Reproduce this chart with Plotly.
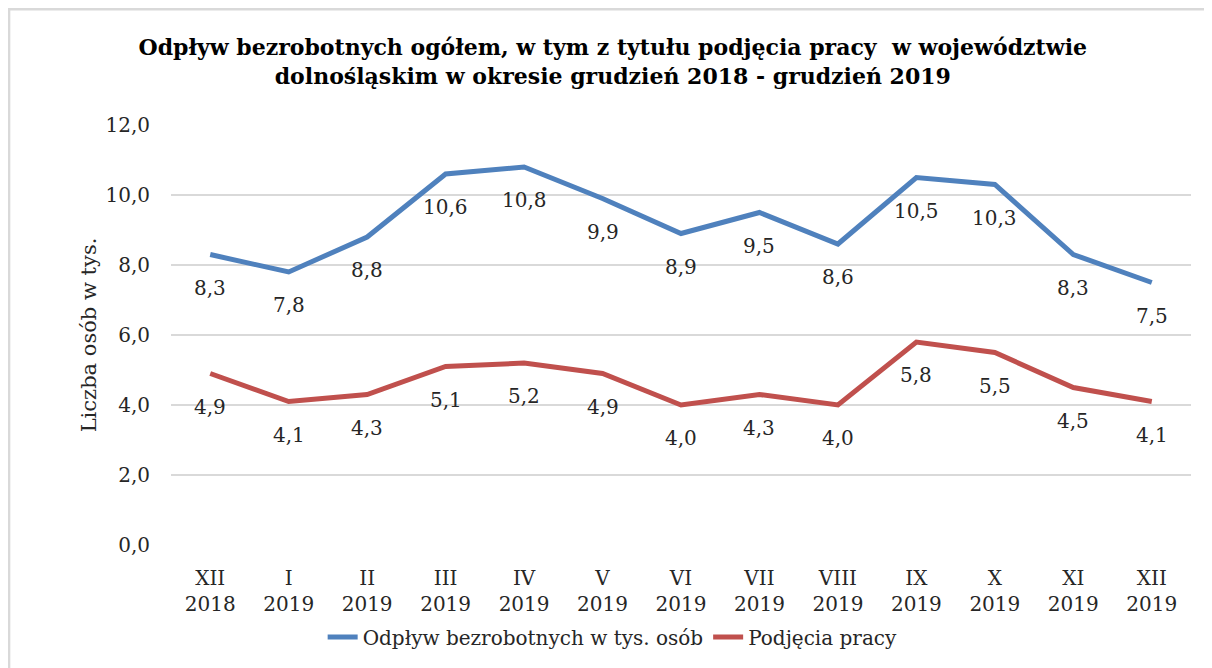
import plotly.graph_objects as go

months = ["XII<br>2018", "I<br>2019", "II<br>2019", "III<br>2019", "IV<br>2019", "V<br>2019",
          "VI<br>2019", "VII<br>2019", "VIII<br>2019", "IX<br>2019", "X<br>2019", "XI<br>2019",
          "XII<br>2019"]
odplyw = [8.3, 7.8, 8.8, 10.6, 10.8, 9.9, 8.9, 9.5, 8.6, 10.5, 10.3, 8.3, 7.5]
podjecia = [4.9, 4.1, 4.3, 5.1, 5.2, 4.9, 4.0, 4.3, 4.0, 5.8, 5.5, 4.5, 4.1]

blue = '#4F81BD'
red = '#C0504D'
text_color = '#262626'
grid_color = '#D9D9D9'
serif = "DejaVu Serif, serif"

fig = go.Figure()
fig.add_trace(go.Scatter(x=months, y=odplyw, mode="lines", name="Odpływ bezrobotnych w tys. osób",
                         line=dict(color=blue, width=5)))
fig.add_trace(go.Scatter(x=months, y=podjecia, mode="lines", name="Podjęcia pracy",
                         line=dict(color=red, width=5)))

annotations = []
for series in (odplyw, podjecia):
    for m, v in zip(months, series):
        annotations.append(dict(x=m, y=v, text=f"{v:.1f}".replace(".", ","), showarrow=False,
                                yshift=-33, font=dict(size=20, color=text_color, family=serif)))

fig.update_layout(
    width=1212, height=668,
    margin=dict(l=163, r=29, t=117, b=131),
    paper_bgcolor="white", plot_bgcolor="white",
    separators=", ",
    font=dict(family=serif, size=20, color=text_color),
    title=dict(text="<b>Odpływ bezrobotnych ogółem, w tym z tytułu podjęcia pracy  w województwie<br>"
                    "dolnośląskim w okresie grudzień 2018 - grudzień 2019</b>",
               x=0.499, xanchor="center", y=1 - 47 / 668, yanchor="middle",
               font=dict(size=22, color="black", family=serif)),
    xaxis=dict(range=[-0.5, 12.5], showgrid=False, tickfont=dict(size=20), ticks="",
               showline=False, automargin=False, ticklabelstandoff=19),
    yaxis=dict(range=[0, 12], dtick=2, tickformat=".1f", showgrid=True, gridcolor=grid_color,
               gridwidth=2, zeroline=False, ticks="", automargin=False, ticklabelstandoff=20,
               title=dict(text="Liczba osób w tys.", font=dict(size=21), standoff=3),
               tickfont=dict(size=20)),
    legend=dict(orientation="h", x=0.433, xanchor="center", y=-0.219, yanchor="middle",
                font=dict(size=20)),
    annotations=annotations,
    shapes=[dict(type="rect", xref="paper", yref="paper", x0=-0.159, x1=1.2, y0=-0.5, y1=1.276,
                 line=dict(color="#D9D9D9", width=3))],
)

fig.write_html("out.html")
